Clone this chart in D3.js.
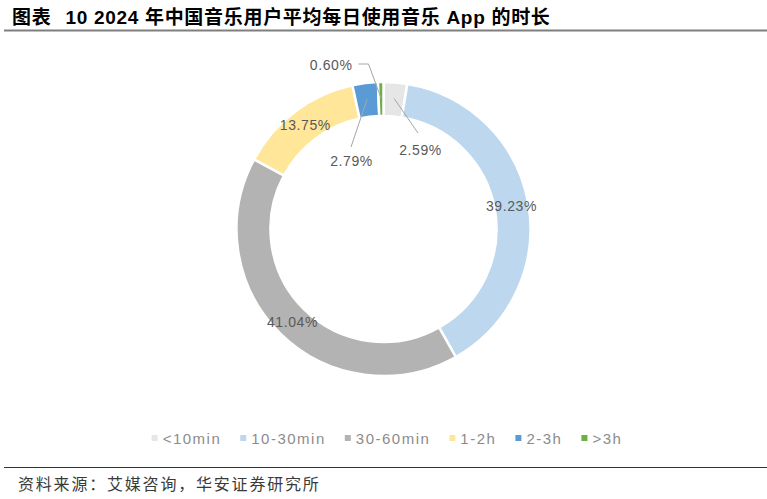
<!DOCTYPE html>
<html>
<head>
<meta charset="utf-8">
<script src="https://cdn.jsdelivr.net/npm/d3@7.9.0/dist/d3.min.js"></script>
<style>
  body { margin: 0; background: #fff; }
  svg { display: block; }
</style>
</head>
<body>
<svg width="767" height="499"></svg>
<script>
// data
const categories = ['<10min', '10-30min', '30-60min', '1-2h', '2-3h', '>3h'];
const shares = [2.59, 39.23, 41.04, 13.75, 2.79, 0.60];
const labels = ['2.59%', '39.23%', '41.04%', '13.75%', '2.79%', '0.60%'];
const palette = ['#e7e6e6', '#bdd7ee', '#b3b3b3', '#ffe699', '#5b9bd5', '#70ad47'];

const W = 767, H = 499;
const cx = 383.5, cy = 229, outerR = 147, innerR = 113;

const svg = d3.select('svg');

// title + rule
const title = svg.append('text')
  .attr('x', 12).attr('y', 24)
  .attr('font-family', '"Liberation Sans", "Noto Sans CJK SC", sans-serif')
  .attr('font-weight', 'bold')
  .attr('font-size', 19)
  .attr('letter-spacing', 0.7)
  .attr('fill', '#000');
title.append('tspan').text('图表');
title.append('tspan').attr('dx', 14).text('10 2024 年中国音乐用户平均每日使用音乐 App 的时长');
svg.append('line')
  .attr('x1', 4).attr('x2', W).attr('y1', 30.5).attr('y2', 30.5)
  .attr('stroke', '#7f7f7f').attr('stroke-width', 2);

// donut
const data = categories.map((c, i) => ({ cat: c, value: shares[i], label: labels[i], color: palette[i] }));
const pie = d3.pie().value(d => d.value).sort(null);
const arc = d3.arc().innerRadius(innerR).outerRadius(outerR);
const midArc = d3.arc().innerRadius((innerR + outerR) / 2).outerRadius((innerR + outerR) / 2);
const arcs = pie(data);

const g = svg.append('g').attr('transform', `translate(${cx},${cy})`);
g.selectAll('path')
  .data(arcs)
  .join('path')
  .attr('d', arc)
  .attr('fill', d => d.data.color)
  .attr('stroke', '#fff')
  .attr('stroke-width', 2.5);

// labels: big slices sit on the ring, small ones get leader lines
const labelFont = '"Liberation Sans", Arial, sans-serif';
const callouts = {
  '<10min': { end: [34.5, -96], text: [37, -74], anchor: 'middle' },
  '2-3h':   { end: [-32.5, -82], text: [-32, -63], anchor: 'middle' },
  '>3h':    { elbow: [-15, -165], end: [-25, -165], text: [-31, -159], anchor: 'end' }
};

arcs.forEach(a => {
  const [mx, my] = midArc.centroid(a);
  const co = callouts[a.data.cat];
  if (!co) {
    g.append('text')
      .attr('x', mx).attr('y', my + 5)
      .attr('text-anchor', 'middle')
      .attr('font-family', labelFont)
      .attr('font-size', 14)
      .attr('letter-spacing', 0.6)
      .attr('fill', '#595959')
      .text(a.data.label);
    return;
  }
  const pts = [[mx, my - 1]];
  if (co.elbow) pts.push(co.elbow);
  pts.push(co.end);
  g.append('path')
    .attr('d', d3.line()(pts))
    .attr('fill', 'none')
    .attr('stroke', '#a6a6a6')
    .attr('stroke-width', 1);
  g.append('text')
    .attr('x', co.text[0]).attr('y', co.text[1])
    .attr('text-anchor', co.anchor)
    .attr('font-family', labelFont)
    .attr('font-size', 14)
    .attr('letter-spacing', 0.6)
    .attr('fill', '#595959')
    .text(a.data.label);
});

// legend
const legend = svg.append('g');
let lx = 0;
categories.forEach((c, i) => {
  const item = legend.append('g').attr('transform', `translate(${lx},0)`);
  item.append('rect')
    .attr('x', 0).attr('y', -3).attr('width', 6).attr('height', 6)
    .attr('fill', palette[i]);
  const t = item.append('text')
    .attr('x', 11).attr('y', 5.5)
    .attr('font-family', labelFont)
    .attr('font-size', 15)
    .attr('letter-spacing', 1.5)
    .attr('fill', '#8c8c8c')
    .text(c);
  lx += 11 + t.node().getComputedTextLength() + 19;
});
const legendW = lx - 19;
legend.attr('transform', `translate(${387 - legendW / 2},438)`);

// source
svg.append('line')
  .attr('x1', 4).attr('x2', W).attr('y1', 467.5).attr('y2', 467.5)
  .attr('stroke', '#333').attr('stroke-width', 1);
svg.append('text')
  .attr('x', 18).attr('y', 490)
  .attr('font-family', '"Noto Sans CJK SC", sans-serif')
  .attr('font-size', 16)
  .attr('letter-spacing', 1.8)
  .attr('fill', '#3a3a3a')
  .text('资料来源：艾媒咨询，华安证券研究所');
</script>
</body>
</html>
